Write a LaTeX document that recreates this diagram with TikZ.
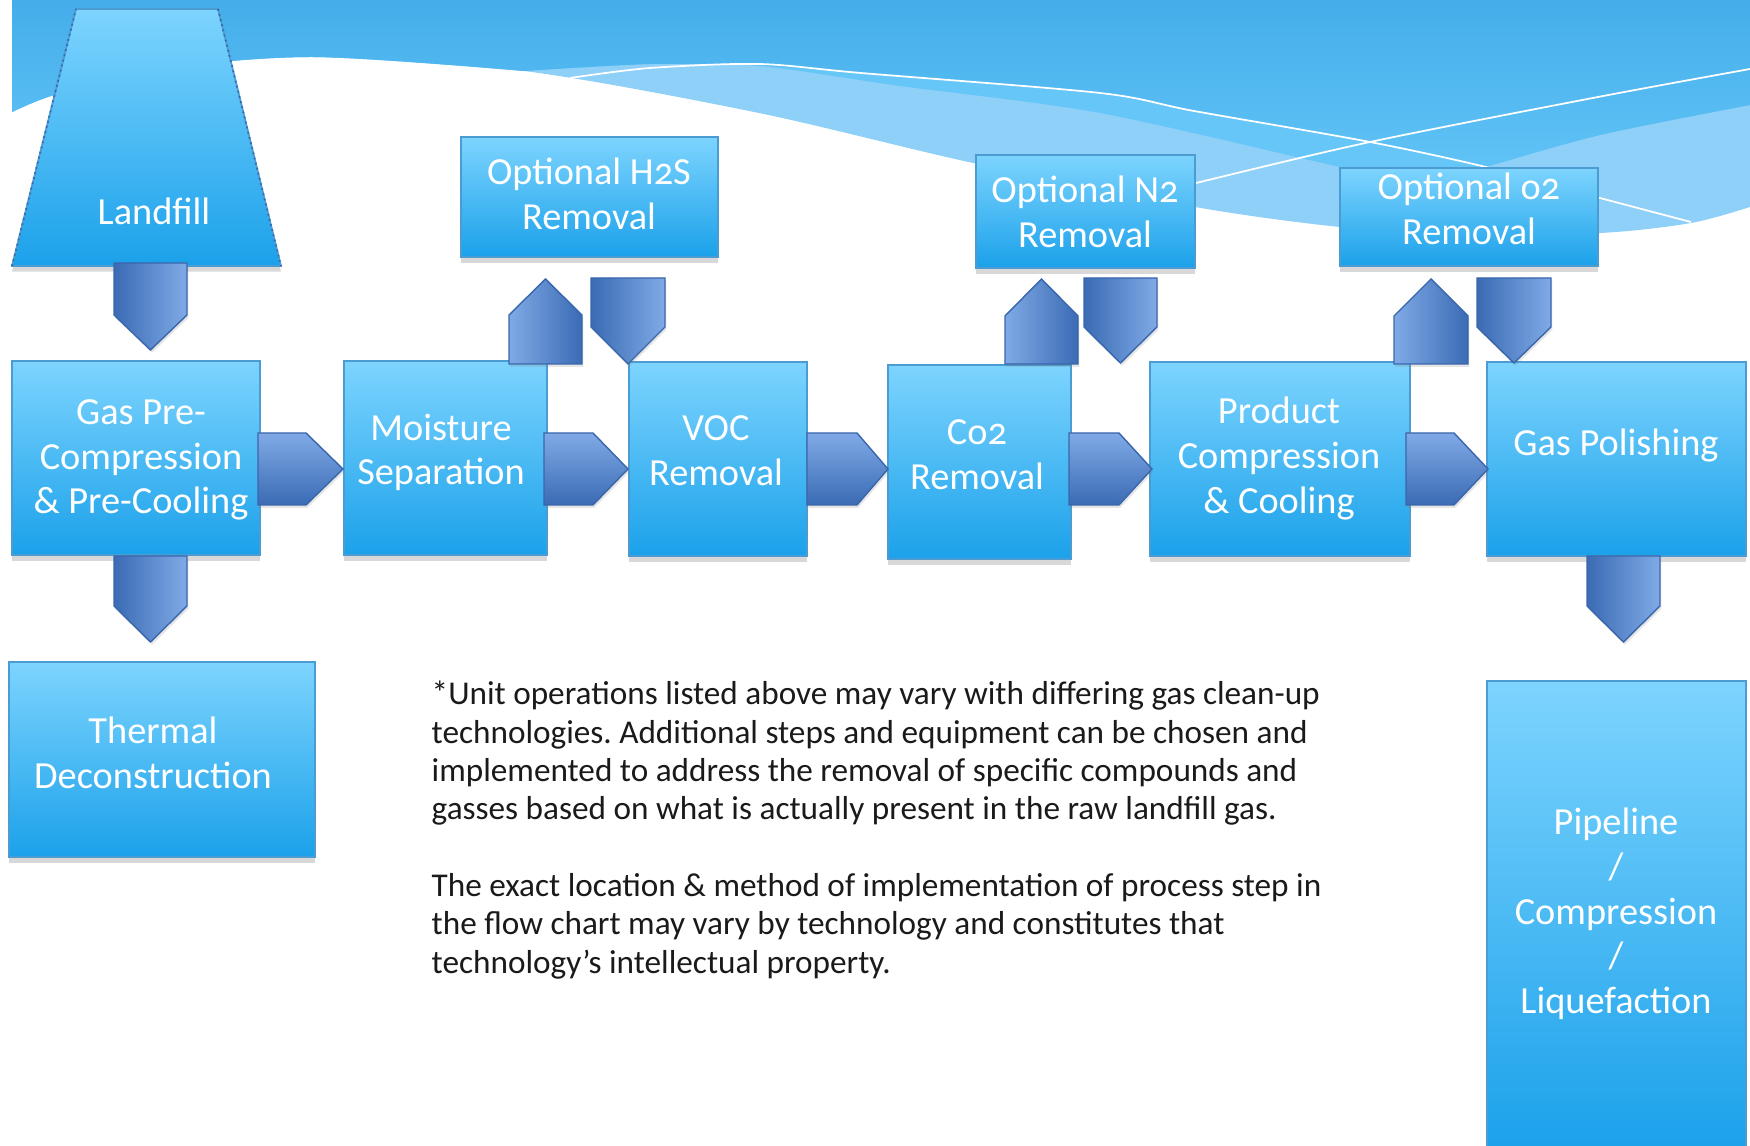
\documentclass[tikz,border=0pt]{standalone}
\usepackage{fontspec}
\setmainfont{Carlito}[Numbers=OldStyle]
\usetikzlibrary{shadows}
\frenchspacing

\definecolor{boxtop}{HTML}{7DD4FE}
\definecolor{boxbot}{HTML}{1BA1EA}
\definecolor{boxline}{HTML}{4B9CD2}
\definecolor{arrdark}{HTML}{3A6BB4}
\definecolor{arrlight}{HTML}{80AAE6}
\definecolor{arrline}{HTML}{3A66AC}
\definecolor{skydeep}{HTML}{44ADEA}
\definecolor{skydeeplow}{HTML}{60C3F6}
\definecolor{skymid}{HTML}{66C6F7}
\definecolor{skylight}{HTML}{8FD0F8}
\definecolor{bodytext}{HTML}{1A1A1A}

\tikzset{
  procbox/.style={rectangle, draw=boxline, line width=0.5pt,
    top color=boxtop, bottom color=boxbot, inner sep=0pt,
    drop shadow={shadow xshift=0pt, shadow yshift=-1.6pt, opacity=0.3}},
  boxtext/.style={text=white, font=\fontsize{10.9}{12.7}\selectfont,
    align=center, inner sep=0pt},
  blockarrow/.style={draw=arrline, line width=0.4pt,
    drop shadow={shadow xshift=0.4pt, shadow yshift=-0.8pt, opacity=0.2}},
  wave/.style={white, line width=0.5pt},
  note/.style={text=bodytext, font=\fontsize{9.45}{10.9}\selectfont,
    align=left, inner sep=0pt, anchor=west}
}

% block arrows: pointing down (left x, right x, top y, shoulder y, tip y)
\newcommand\arrdn[5]{\path[blockarrow, left color=arrdark, right color=arrlight]
  (#1,#3) -- (#2,#3) -- (#2,#4) -- ({(#1+#2)/2},#5) -- (#1,#4) -- cycle;}
% pointing up (left x, right x, bottom y, shoulder y, tip y)
\newcommand\arrup[5]{\path[blockarrow, left color=arrlight, right color=arrdark]
  (#1,#3) -- (#2,#3) -- (#2,#4) -- ({(#1+#2)/2},#5) -- (#1,#4) -- cycle;}
% pointing right (left x, shoulder x, tip x, top y, bottom y)
\newcommand\arrrt[5]{\path[blockarrow, top color=arrlight, bottom color=arrdark]
  (#1,#4) -- (#2,#4) -- (#3,{(#4+#5)/2}) -- (#2,#5) -- (#1,#5) -- cycle;}

\begin{document}
\begin{tikzpicture}[x=0.01cm, y=-0.01cm]
\useasboundingbox (0,0) rectangle (1750,1146);
\fill[white] (0,0) rectangle (1750,1146);

% ---- sky wave across the top ----
\fill[skylight] (12,0) -- (1750,0) -- (1750,207)
  -- plot[smooth] coordinates {(1750,207) (1691,223) (1600,233) (1460,234)
     (1340,227) (1195,207) (973,163) (759,113) (524,71) (312,57) (150,70)
     (54,95) (12,112)} -- cycle;
\fill[skymid] (12,0) -- (1750,0) -- (1750,105)
  -- plot[smooth] coordinates {(1750,105) (1600,135) (1486,167) (1440,182)
     (1400,178) (1340,167) (1100,113) (900,86) (759,66) (650,64) (524,71)}
  -- plot[smooth] coordinates {(524,71) (312,57) (150,70) (54,95) (12,112)}
  -- cycle;
\shade[top color=skydeep, bottom color=skydeeplow] (12,0) -- (1750,0) -- (1750,105)
  -- plot[smooth] coordinates {(1750,105) (1600,135) (1486,167)}
  -- plot[smooth] coordinates {(1486,167) (1370,142) (1194,111) (1100,94)
     (861,73) (759,65)}
  -- plot[smooth] coordinates {(759,65) (650,64) (524,71)}
  -- plot[smooth] coordinates {(524,71) (312,57) (150,70) (54,95) (12,112)}
  -- cycle;
\draw[wave] plot[smooth] coordinates {(570,78) (650,68) (759,64) (861,73)
  (1100,93) (1194,111) (1370,142) (1490,168) (1600,198) (1691,222)};
\draw[wave] plot[smooth] coordinates {(1150,195) (1196,183) (1370,142)
  (1598,97) (1750,69)};

% ---- landfill ----
\path[procbox] (76,9) -- (218,9) -- (281,266) -- (12,266) -- cycle;
\draw[arrline, line width=0.5pt, densely dotted] (218,9) -- (281,266) (12,266) -- (76,9);
\node[boxtext] (landfill) at (154,211) {Landfill};

% ---- process boxes ----
\node[procbox, minimum width=2.48cm, minimum height=1.94cm] (gpc) at (136,458) {};
\node[procbox, minimum width=2.03cm, minimum height=1.94cm] (ms) at (445.5,458) {};
\node[procbox, minimum width=1.78cm, minimum height=1.94cm] (voc) at (718,459) {};
\node[procbox, minimum width=1.83cm, minimum height=1.94cm] (co2) at (979.5,462) {};
\node[procbox, minimum width=2.60cm, minimum height=1.94cm] (pcc) at (1280,459) {};
\node[procbox, minimum width=2.59cm, minimum height=1.94cm] (gp) at (1616.5,459) {};
\node[procbox, minimum width=2.57cm, minimum height=1.20cm] (h2s) at (589.5,197) {};
\node[procbox, minimum width=2.19cm, minimum height=1.13cm] (n2) at (1085.5,211.5) {};
\node[procbox, minimum width=2.58cm, minimum height=0.98cm] (o2) at (1469,217) {};
\node[procbox, minimum width=3.06cm, minimum height=1.95cm] (thermal) at (162,759.5) {};
\node[procbox, minimum width=2.59cm, minimum height=4.70cm] (pipe) at (1616.5,916) {};

% ---- box labels ----
\node[boxtext] (gpc-t) at (141,460) {Gas Pre-\\Compression\\\& Pre-Cooling};
\node[boxtext] (ms-t) at (441,452.5) {Moisture\\Separation};
\node[boxtext] (voc-t) at (716,451) {VOC\\Removal};
\node[boxtext] (co2-t) at (977,455) {Co2\\Removal};
\node[boxtext] (pcc-t) at (1279,458.5) {Product\\Compression\\\& Cooling};
\node[boxtext] (gp-t) at (1616,445) {Gas Polishing};
\node[boxtext] (h2s-t) at (589,194) {Optional H2S\\Removal};
\node[boxtext] (n2-t) at (1085,212) {Optional N2\\Removal};
\node[boxtext] (o2-t) at (1469,209) {Optional o2\\Removal};
\node[boxtext] (thermal-t) at (153,753) {Thermal\\Deconstruction};
\node[boxtext] (pipe-t) at (1616,914) {Pipeline\\/\\Compression\\/\\Liquefaction};

% ---- block arrows ----
\arrdn{114}{187}{263}{315}{350}
\arrdn{114}{187}{556}{606}{642}
\arrdn{591}{665}{278}{327}{364}
\arrdn{1084}{1157}{278}{327}{363}
\arrdn{1477}{1551}{278}{327}{363}
\arrdn{1587}{1660}{556}{606}{642}
\arrup{509}{582}{364}{315}{279}
\arrup{1005}{1078}{364}{316}{279}
\arrup{1394}{1468}{364}{316}{279}
\arrrt{258}{306}{343}{433}{505}
\arrrt{544}{593}{628}{433}{505}
\arrrt{807}{857}{888}{433}{505}
\arrrt{1069}{1119}{1152}{433}{505}
\arrrt{1406}{1454}{1488}{433}{505}

% ---- footnote ----
\node[note] (remark) at (431,830) {*Unit operations listed above may vary with differing gas clean-up\\
technologies. Additional steps and equipment can be chosen and\\
implemented to address the removal of specific compounds and\\
gasses based on what is actually present in the raw landfill gas.\\[10.9pt]
The exact location \& method of implementation of process step in\\
the flow chart may vary by technology and constitutes that\\
technology’s intellectual property.};
\end{tikzpicture}
\end{document}
